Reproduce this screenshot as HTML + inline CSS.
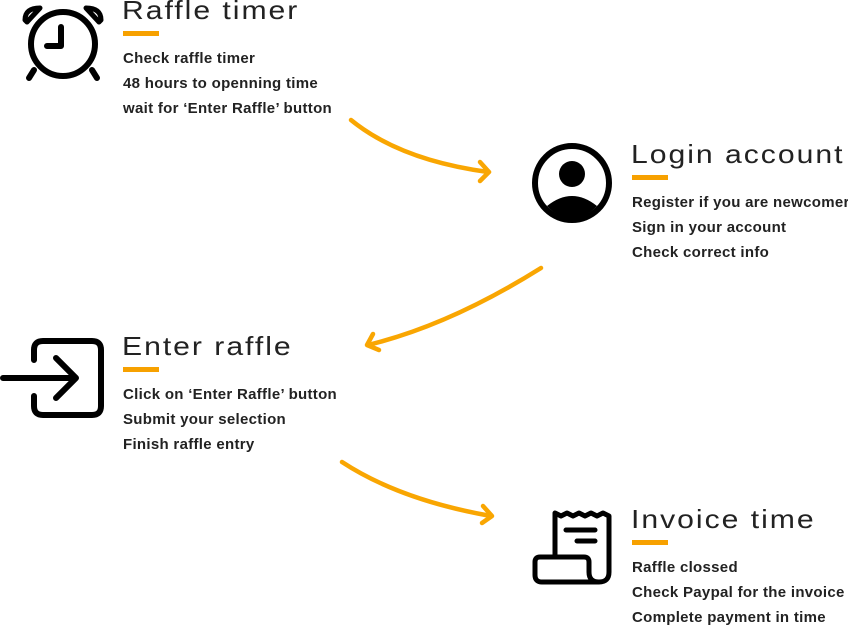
<!DOCTYPE html>
<html><head><meta charset="utf-8"><style>
body{margin:0;width:848px;height:625px;background:#fff;position:relative;overflow:hidden;font-family:"Liberation Sans",sans-serif;}
.t{position:absolute;font-size:26px;font-weight:normal;color:#222;letter-spacing:1.7px;transform:scaleX(1.16);transform-origin:left;line-height:26px;white-space:nowrap}
.bar{position:absolute;width:36px;height:5px;background:#F7A100}
.b{position:absolute;font-size:15px;font-weight:bold;color:#222;line-height:25px;white-space:nowrap;letter-spacing:0.3px}
</style></head><body>
<svg width="848" height="625" style="position:absolute;left:0;top:0">
<g fill="none" stroke="#F9A602" stroke-width="4.5" stroke-linecap="round" stroke-linejoin="round">
<path d="M351 120 Q400 160 488 172"/><path d="M480 162 L489 172 L480 181"/>
<path d="M541 268 Q450 325 368 345"/><path d="M373 334 L367 345 L379 350"/>
<path d="M342 462 Q400 500 491 516"/><path d="M483 506 L492 516 L482 523"/>
</g>
<g fill="none" stroke="#000" stroke-width="6" stroke-linecap="round" stroke-linejoin="round">
<circle cx="63" cy="44" r="32"/>
<path d="M61 27 V46 H47"/>
<path d="M34 70 L29 78 M92 70 L97 78"/>
</g>
<path d="M25 20 Q25 8 40 8 L27 22Z M101 20 Q101 8 86 8 L99 22Z" fill="none" stroke="#000" stroke-width="5" stroke-linejoin="round"/>
<circle cx="572" cy="183" r="37" fill="none" stroke="#000" stroke-width="6"/>
<circle cx="572" cy="174" r="13" fill="#000"/>
<path d="M547 206 Q572 186 597 206 Q586 218 572 218 Q558 218 547 206Z" fill="#000"/>
<g fill="none" stroke="#000" stroke-width="6" stroke-linecap="round" stroke-linejoin="round">
<path d="M34 360 V350 Q34 341 43 341 H92 Q101 341 101 350 V406 Q101 415 92 415 H43 Q34 415 34 406 V396"/>
<path d="M3 378 H76 M56 358 L76 378 L56 398"/>
</g>
<g fill="none" stroke="#000" stroke-width="5" stroke-linecap="round" stroke-linejoin="round">
<path d="M555 557 V513 L561 516 L567 513 L573 516 L579 513 L585 516 L591 513 L597 516 L603 513 L609 516 V572 Q609 582 599 582 Q589 582 589 572 V562 Q589 557 584 557 H540 Q535 557 535 562 V575 Q535 582 542 582 H599"/>
<path d="M566 530 H595 M577 541 H595"/>
</g>
</svg>
<div class="t" style="left:122px;top:-3px">Raffle timer</div>
<div class="bar" style="left:123px;top:31px"></div>
<div class="b" style="left:123px;top:46px">Check raffle timer<br>48 hours to openning time<br>wait for ‘Enter Raffle’ button</div>

<div class="t" style="left:631px;top:141px">Login account</div>
<div class="bar" style="left:632px;top:175px"></div>
<div class="b" style="left:632px;top:190px">Register if you are newcomer<br>Sign in your account<br>Check correct info</div>

<div class="t" style="left:122px;top:333px">Enter raffle</div>
<div class="bar" style="left:123px;top:367px"></div>
<div class="b" style="left:123px;top:382px">Click on ‘Enter Raffle’ button<br>Submit your selection<br>Finish raffle entry</div>

<div class="t" style="left:631px;top:506px">Invoice time</div>
<div class="bar" style="left:632px;top:540px"></div>
<div class="b" style="left:632px;top:555px">Raffle clossed<br>Check Paypal for the invoice<br>Complete payment in time</div>
</body></html>
